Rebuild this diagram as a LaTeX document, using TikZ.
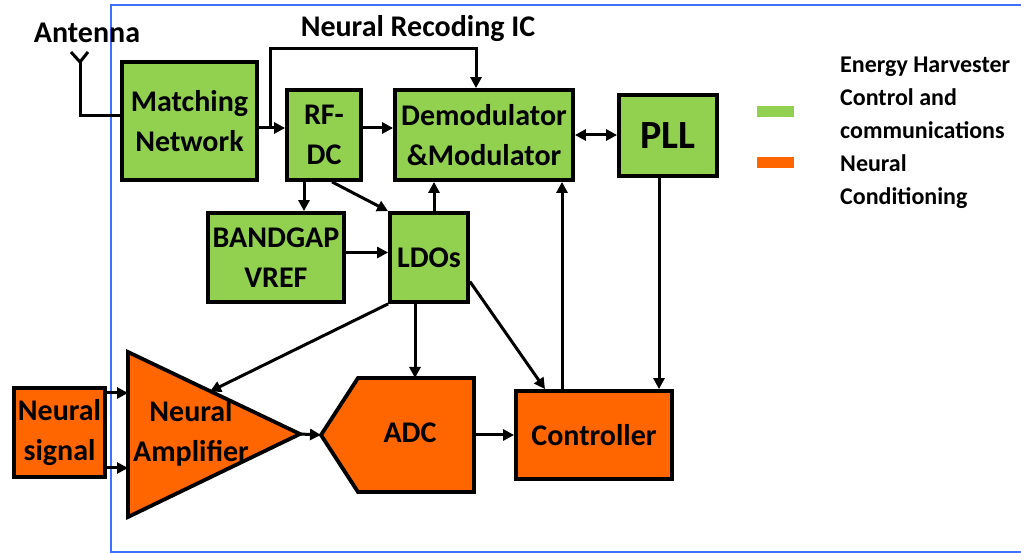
\documentclass[tikz,border=0pt]{standalone}
\usepackage{fontspec}
\setmainfont{Carlito}
\usetikzlibrary{arrows.meta}
\definecolor{gbox}{HTML}{92D050}
\definecolor{obox}{HTML}{FF6600}
\definecolor{frameblue}{RGB}{64,112,255}
\tikzset{
  blk/.style={draw=black, line width=3.8pt, inner sep=0pt, align=center,
              font=\bfseries\fontsize{30}{40}\selectfont},
  gblk/.style={blk, fill=gbox},
  oblk/.style={blk, fill=obox},
  arr/.style={line width=3pt, -{Triangle[length=11pt,width=11pt]}},
  dblarr/.style={line width=3pt, {Triangle[length=11pt,width=11pt]}-{Triangle[length=11pt,width=11pt]}},
  wire/.style={line width=3pt},
  lbl/.style={font=\bfseries\fontsize{30}{40}\selectfont, inner sep=0pt, align=center},
  leglbl/.style={font=\bfseries\fontsize{24}{33}\selectfont, inner sep=0pt, align=left},
}
\begin{document}
\begin{tikzpicture}[x=1pt,y=-1pt]
\useasboundingbox (0,0) rectangle (1021,553);
\fill[white] (0,0) rectangle (1021,553);
% frame
\draw[frameblue, line width=2pt] (1023,5) -- (111,5) -- (111,552) -- (1023,552);

% titles
\node[lbl, anchor=base] (anttxt) at (87,43) {Antenna};
\node[lbl, anchor=base] (ictxt) at (418,37) {Neural Recoding IC};

% green blocks
\node[gblk, minimum width=135pt, minimum height=118pt] (MN) at (189.5,121) {Matching\\Network};
\node[gblk, minimum width=74pt, minimum height=90pt] (RF) at (324,135) {RF-\\DC};
\node[gblk, minimum width=178pt, minimum height=90pt] (DM) at (484,135) {Demodulator\\\&Modulator};
\node[gblk, minimum width=98pt, minimum height=81pt, font=\bfseries\fontsize{40}{44}\selectfont] (PLL) at (668,135.5) {PLL};
\node[gblk, minimum width=136pt, minimum height=89pt] (BG) at (276,257.5) {BANDGAP\\VREF};
\node[gblk, minimum width=78pt, minimum height=89pt] (LDO) at (429,257.5) {LDOs};

% orange blocks
\node[oblk, minimum width=91pt, minimum height=89pt] (NS) at (59.5,432.5) {Neural\\signal};
\node[oblk, minimum width=156pt, minimum height=88pt] (CT) at (594,435) {Controller};

% amplifier triangle
\coordinate (ampA) at (128,352);
\coordinate (ampB) at (128,517);
\coordinate (ampTip) at (300,434);
\draw[fill=obox, line width=3.8pt, line join=miter] (ampA) -- (ampTip) -- (ampB) -- cycle;
\node[lbl] (AMP) at (191,433) {Neural\\Amplifier};
\coordinate (ampIn1) at (128,393);
\coordinate (ampIn2) at (128,468);
\coordinate (ampTop) at (210,391.5);

% ADC pentagon
\coordinate (adcL) at (321,435);
\coordinate (adcTL) at (358,378);
\coordinate (adcTR) at (474,378);
\coordinate (adcBR) at (474,492);
\coordinate (adcBL) at (358,492);
\draw[fill=obox, line width=3.8pt, line join=miter] (adcL) -- (adcTL) -- (adcTR) -- (adcBR) -- (adcBL) -- cycle;
\node[lbl] (ADC) at (410,433) {ADC};
\coordinate (adcR) at (474,435);

% antenna
\coordinate (antJ) at (80,62);
\coordinate (antL) at (80,116);
\draw[wire, line join=miter] (71,52) -- (antJ) -- (88,52);
\draw[wire] (antJ) -- (antL) -- (antL -| MN.west);

% connectors
\coordinate (r1) at (270,128);
\coordinate (topL) at (270,49);
\coordinate (dmX) at (476,49);
\draw[arr] (r1 -| MN.east) -- (r1 -| RF.west);
\draw[arr] (r1) -- (topL) -- (dmX) -- (dmX |- DM.north);
\draw[arr] (r1 -| RF.east) -- (r1 -| DM.west);
\coordinate (c304) at (304,0);
\draw[arr] (c304 |- RF.south) -- (c304 |- BG.north);
\draw[arr] ([xshift=8pt]RF.south) -- (LDO.north west);
\draw[arr] ([yshift=5pt]BG.east) -- ([yshift=5pt]BG.east -| LDO.west);
\draw[arr] ([xshift=5pt]LDO.north) -- ([xshift=5pt]LDO.north |- DM.south);
\draw[dblarr] (DM.east) -- (DM.east -| PLL.west);
\draw[arr] ([xshift=-9pt]PLL.south) -- ([xshift=-9pt]PLL.south |- CT.north);
\coordinate (c562) at (562,0);
\draw[arr] (c562 |- CT.north) -- (c562 |- DM.south);
\coordinate (c545) at (545,0);
\draw[arr] ([yshift=-24pt]LDO.east) -- (c545 |- CT.north);
\draw[arr] ([xshift=-14pt]LDO.south) -- ([xshift=-14pt]LDO.south |- adcTL);
\draw[arr] (LDO.south west) -- (ampTop);
\draw[arr] (NS.east |- ampIn1) -- (ampIn1);
\draw[arr] (NS.east |- ampIn2) -- (ampIn2);
\draw[arr] (ampTip) -- (adcL);
\draw[arr] (adcR) -- (adcR -| CT.west);

% legend
\fill[gbox] (757,106) rectangle (794,117);
\fill[obox] (757,157) rectangle (794,168);
\node[leglbl, anchor=base west] (LEG) at (840,205) {Energy Harvester\\Control and\\communications\\Neural\\Conditioning};
\end{tikzpicture}
\end{document}
